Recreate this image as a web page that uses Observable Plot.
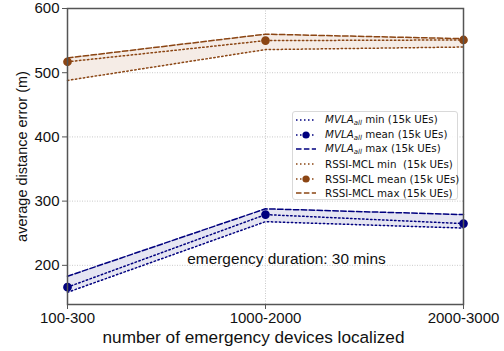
<!DOCTYPE html>
<html>
<head>
<meta charset="utf-8">
<script src="https://cdn.jsdelivr.net/npm/d3@7"></script>
<script src="https://cdn.jsdelivr.net/npm/@observablehq/plot@0.6"></script>
<style>
  body { margin: 0; background: #fff; }
  #wrap { position: relative; width: 504px; height: 351px; }
  #legend { position: absolute; left: 292px; top: 111px; width: 166px; height: 89px;
    border: 1px solid #d9d9d9; border-radius: 3px; background: rgba(255,255,255,0.85);
    font-family: "DejaVu Sans", sans-serif; font-size: 10.3px; color: #111; box-sizing: border-box; padding-top: 1px; }
  .row { display: flex; align-items: center; height: 14.6px; white-space: nowrap; }
  .row svg { margin-left: 3px; margin-right: 9px; flex: none; }
  sub { font-size: 7px; vertical-align: -2px; }
</style>
</head>
<body>
<div id="wrap"></div>
<script>
const categories = ["100-300", "1000-2000", "2000-3000"];
const mvlaMin  = [158, 268, 258];
const mvlaMean = [166, 279, 265];
const mvlaMax  = [183, 288, 279];
const rssiMin  = [488, 536, 540];
const rssiMean = [517, 550, 551];
const rssiMax  = [523, 560, 553];
const yTicks = [200, 300, 400, 500, 600];
const annotation = "emergency duration: 30 mins";
const xLabel = "number of emergency devices localized";
const yLabel = "average distance error (m)";

const navy = "#00007f";
const brown = "#8b4513";
const dotted = "1.5,2.5";
const dashed = "5.5,2.4";

const rows = (mins, means, maxs) => categories.map((c, i) => ({x: c, min: mins[i], mean: means[i], max: maxs[i]}));
const mvla = rows(mvlaMin, mvlaMean, mvlaMax);
const rssi = rows(rssiMin, rssiMean, rssiMax);

function series(data, color, fill) {
  return [
    Plot.areaY(data, {x: "x", y1: "min", y2: "max", fill: fill}),
    Plot.lineY(data, {x: "x", y: "min", stroke: color, strokeWidth: 1.5, strokeDasharray: dotted}),
    Plot.lineY(data, {x: "x", y: "mean", stroke: color, strokeWidth: 1.5, strokeDasharray: dotted}),
    Plot.lineY(data, {x: "x", y: "max", stroke: color, strokeWidth: 1.5, strokeDasharray: dashed}),
    Plot.dot(data, {x: "x", y: "mean", r: 3.6, fill: color, stroke: color})
  ];
}

const chart = Plot.plot({
  width: 504,
  height: 351,
  marginLeft: 67,
  marginRight: 41,
  marginTop: 8,
  marginBottom: 47,
  style: {fontFamily: "'Liberation Sans', Arial, sans-serif", fontSize: "15px", color: "#111", background: "#fff"},
  x: {type: "point", domain: categories, padding: 0},
  y: {domain: [139, 600]},
  marks: [
    Plot.gridY(yTicks.slice(0, 4), {stroke: "#bbb", strokeOpacity: 1, strokeDasharray: "1,1.5", strokeWidth: 0.8}),
    Plot.gridX(categories.slice(1, 2), {stroke: "#bbb", strokeOpacity: 1, strokeDasharray: "1,1.5", strokeWidth: 0.8}),
    ...series(rssi, brown, "#f5ece6"),
    ...series(mvla, navy, "#e5e5f2"),
    Plot.text([annotation], {x: () => categories[1], y: () => 209, text: d => d, dx: 21, fontSize: 15.4, fill: "#111"}),
    Plot.frame({stroke: "#555", strokeWidth: 1.5}),
    Plot.axisY(yTicks, {tickSize: 5, tickPadding: 3, fontSize: 15, stroke: "#555", label: null}),
    Plot.axisX(categories, {tickSize: 5, tickPadding: 3, fontSize: 15, stroke: "#555", label: null}),
    Plot.text([xLabel], {frameAnchor: "bottom", lineAnchor: "middle", dy: 33, dx: -12, fontSize: 17.2, fill: "#111", text: d => d}),
    Plot.text([yLabel], {frameAnchor: "left", textAnchor: "middle", lineAnchor: "middle", rotate: -90, dx: -45, fontSize: 14.5, fill: "#111", text: d => d})
  ]
});
const wrap = document.getElementById("wrap");
wrap.appendChild(chart);

const legendItems = [
  {name: "<i>MVLA<sub>all</sub></i> min (15k UEs)", color: navy, dash: dotted, marker: false},
  {name: "<i>MVLA<sub>all</sub></i> mean (15k UEs)", color: navy, dash: dotted, marker: true},
  {name: "<i>MVLA<sub>all</sub></i> max (15k UEs)", color: navy, dash: dashed, marker: false},
  {name: "RSSI-MCL min&nbsp; (15k UEs)", color: brown, dash: dotted, marker: false},
  {name: "RSSI-MCL mean (15k UEs)", color: brown, dash: dotted, marker: true},
  {name: "RSSI-MCL max (15k UEs)", color: brown, dash: dashed, marker: false}
];
const legend = document.createElement("div");
legend.id = "legend";
legend.innerHTML = legendItems.map(d =>
  `<div class="row"><svg width="20" height="10"><line x1="0" x2="20" y1="5" y2="5" stroke="${d.color}" stroke-width="1.5" stroke-dasharray="${d.dash}"/>` +
  (d.marker ? `<circle cx="10" cy="5" r="3.6" fill="${d.color}"/>` : "") +
  `</svg><span>${d.name}</span></div>`).join("");
wrap.appendChild(legend);
</script>
</body>
</html>
